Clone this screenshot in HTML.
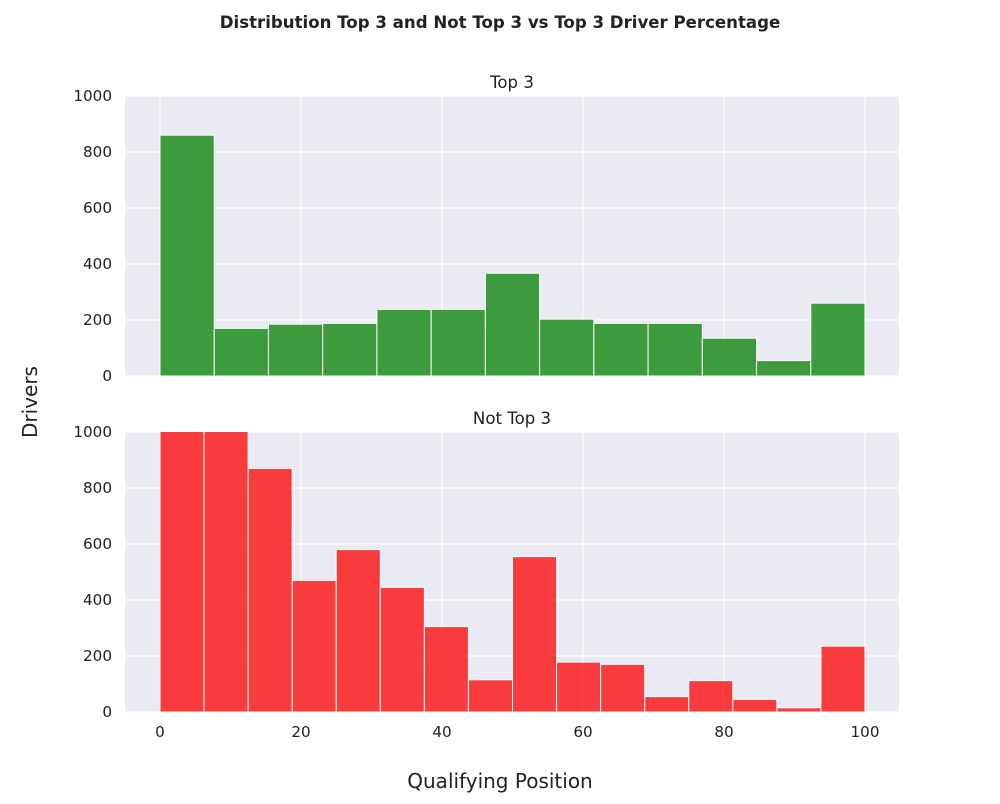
<!DOCTYPE html>
<html><head><meta charset="utf-8"><style>
body{margin:0;background:#fff;font-family:"DejaVu Sans","Liberation Sans",sans-serif}
</style></head><body>
<svg id="c" width="1000" height="800" xmlns="http://www.w3.org/2000/svg" font-family="DejaVu Sans, Liberation Sans, sans-serif">
<text x="500" y="28" text-anchor="middle" font-size="16.6" font-weight="bold" fill="#222">Distribution Top 3 and Not Top 3 vs Top 3 Driver Percentage</text>
<text x="500" y="788" text-anchor="middle" font-size="20" fill="#222">Qualifying Position</text>
<text transform="translate(37,402) rotate(-90)" text-anchor="middle" font-size="20" fill="#222">Drivers</text>
</svg>
<script>
const topValues=[860,170,185,188,238,238,367,203,188,188,135,55,260];
const bottomValues=[1300,1100,870,470,580,445,305,115,555,178,170,55,112,45,15,235];
const xTicks=[0,20,40,60,80,100];
const yTicks=[0,200,400,600,800,1000];
const svg=document.getElementById('c');
const NS='http://www.w3.org/2000/svg';
const X0=125,X1=899;
const xs=v=>160+v*7.05;
function mk(t,a){const e=document.createElementNS(NS,t);for(const k in a)e.setAttribute(k,a[k]);svg.appendChild(e);return e;}
function panel(top,title,vals,color,showX,key){
  const bot=top+280;const ys=v=>bot-v*0.28;
  const bg=mk('rect',{x:X0,y:top,width:X1-X0,height:280,fill:'#eaeaf2'});
  
  
  yTicks.forEach(t=>{
    const l=mk('line',{x1:X0,x2:X1,y1:ys(t),y2:ys(t),stroke:'#fff','stroke-width':1.2});
    
    
    const tx=mk('text',{x:X0-13,y:ys(t)+5,'text-anchor':'end','font-size':15.2,fill:'#222'});tx.textContent=t;
    
    
  });
  xTicks.forEach(t=>{
    const l=mk('line',{x1:xs(t),x2:xs(t),y1:top,y2:bot,stroke:'#fff','stroke-width':1.2});
    
    
    if(showX){const tx=mk('text',{x:xs(t),y:bot+25,'text-anchor':'middle','font-size':15.2,fill:'#222'});tx.textContent=t;
    
    }
  });
  const cp=mk('clipPath',{id:'cp'+key});const r=document.createElementNS(NS,'rect');
  r.setAttribute('x',X0);r.setAttribute('y',top);r.setAttribute('width',X1-X0);r.setAttribute('height',280);cp.appendChild(r);
  const w=100/vals.length;
  vals.forEach((v,i)=>{
    const b=mk('rect',{x:xs(i*w),y:ys(v),width:xs((i+1)*w)-xs(i*w),height:v*0.28,fill:color,'fill-opacity':0.75,stroke:'#fff','stroke-width':1,'clip-path':'url(#cp'+key+')'});
    
    
  });
  const tt=mk('text',{x:512,y:top-8,'text-anchor':'middle','font-size':16.6,fill:'#222'});tt.textContent=title;
  
  
}
panel(96,'Top 3',topValues,'#008000',false,'top3');
panel(432,'Not Top 3',bottomValues,'#ff0000',true,'not-top3');
</script>
</body></html>
